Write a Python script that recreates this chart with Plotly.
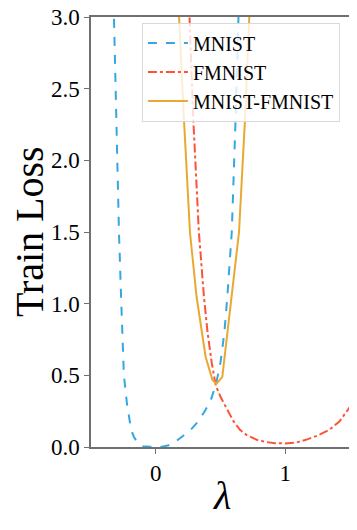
import plotly.graph_objects as go

# valores
lam_mnist = [-0.40, -0.35, -0.32, -0.295, -0.284, -0.266, -0.246, -0.222, -0.19, -0.168, -0.14, -0.12, -0.10, -0.05, 0.0,
             0.05, 0.10, 0.15, 0.20, 0.27, 0.33, 0.385, 0.43, 0.468, 0.50, 0.53, 0.553, 0.587, 0.617, 0.643, 0.67]
loss_mnist = [6.0, 4.0, 3.0, 2.0, 1.5, 1.0, 0.5, 0.30, 0.12, 0.07, 0.03, 0.015, 0.006, 0.001, 0.0,
              0.002, 0.012, 0.035, 0.07, 0.12, 0.18, 0.26, 0.34, 0.45, 0.59, 0.8, 1.05, 1.5, 2.3, 3.0, 4.0]

lam_fmnist = [0.22, 0.26, 0.289, 0.333, 0.372, 0.40, 0.432, 0.463, 0.50, 0.553, 0.60, 0.65, 0.70, 0.78,
              0.85, 0.92, 1.0, 1.08, 1.16, 1.25, 1.34, 1.42, 1.5]
loss_fmnist = [4.0, 3.0, 2.3, 1.5, 1.05, 0.8, 0.59, 0.43, 0.35, 0.26, 0.18, 0.12, 0.085, 0.05,
               0.035, 0.027, 0.025, 0.03, 0.05, 0.08, 0.12, 0.18, 0.28]

lam_mix = [0.15, 0.18, 0.217, 0.264, 0.315, 0.385, 0.437, 0.468, 0.514, 0.553, 0.60, 0.643, 0.69, 0.726, 0.75]
loss_mix = [4.0, 3.0, 2.3, 1.5, 1.05, 0.63, 0.47, 0.44, 0.49, 0.79, 1.16, 1.5, 2.3, 3.0, 3.6]

x_ticks = [0, 1]
y_ticks = [0.0, 0.5, 1.0, 1.5, 2.0, 2.5, 3.0]

serif = "Liberation Serif, Times New Roman, serif"
spine = "#707070"

fig = go.Figure()
fig.add_trace(go.Scatter(x=lam_mnist, y=loss_mnist, mode='lines', name='MNIST',
                         line=dict(color='#33a8e0', width=2, dash='dash')))
fig.add_trace(go.Scatter(x=lam_fmnist, y=loss_fmnist, mode='lines', name='FMNIST',
                         line=dict(color='#fe5237', width=2, dash='dashdot')))
fig.add_trace(go.Scatter(x=lam_mix, y=loss_mix, mode='lines', name='MNIST-FMNIST',
                         line=dict(color='#eaa833', width=2)))

# la pagina tiene 8px de margen en el body, se descuenta aqui
fig.update_layout(
    width=349, height=522,
    margin=dict(l=83, r=7, t=9, b=83),
    plot_bgcolor='white', paper_bgcolor='white',
    font=dict(family=serif, color='black'),
    legend=dict(x=0.961, y=0.987, xanchor='right', yanchor='top',
                bgcolor='rgba(255,255,255,0.8)', bordercolor='#d9d9d9', borderwidth=1,
                font=dict(family=serif, size=20), itemwidth=40),
)
fig.update_xaxes(range=[-0.5, 1.5], tickvals=x_ticks, ticks='outside', ticklen=5, tickcolor=spine, tickwidth=1,
                 showline=True, linecolor=spine, linewidth=1.5, mirror=True, showgrid=False, zeroline=False,
                 tickfont=dict(size=23), automargin=False, ticklabeloverflow='allow')
fig.update_yaxes(range=[0, 3], tickvals=y_ticks, tickformat='.1f', ticks='outside', ticklen=5, tickcolor=spine, tickwidth=1,
                 showline=True, linecolor=spine, linewidth=1.5, mirror=True, showgrid=False, zeroline=False,
                 tickfont=dict(size=23), automargin=False, ticklabeloverflow='allow')

# titulos de los ejes
fig.add_annotation(text='<i>λ</i>', x=0.506, y=-0.113, xref='paper', yref='paper',
                   xanchor='center', yanchor='middle', showarrow=False, font=dict(size=40))
fig.add_annotation(text='Train Loss', x=-0.239, y=0.5, xref='paper', yref='paper', textangle=-90,
                   xanchor='center', yanchor='middle', showarrow=False, font=dict(size=40))

fig.write_html("out.html")
